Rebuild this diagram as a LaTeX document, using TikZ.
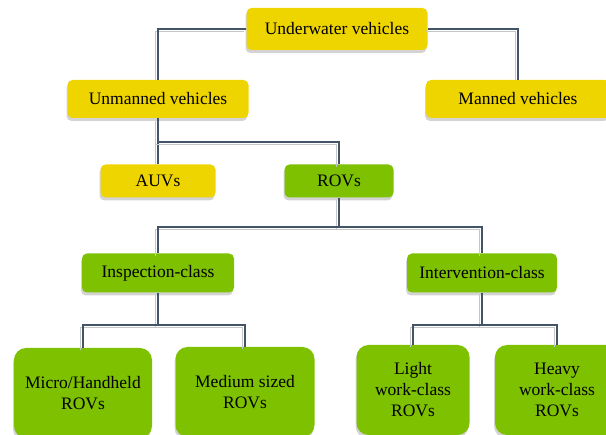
\documentclass[tikz,border=0pt]{standalone}
\usepackage{fontspec}
\setmainfont{Liberation Serif}
\usetikzlibrary{shadows}
\definecolor{vyellow}{RGB}{239,213,0}
\definecolor{vgreen}{RGB}{125,193,0}
\definecolor{linkcol}{RGB}{68,84,104}
\tikzset{
  box/.style={rounded corners=5pt, inner sep=2pt, align=center,
    font=\fontsize{17.5}{21}\selectfont,
    drop shadow={shadow xshift=-1pt, shadow yshift=-3pt, opacity=.35}},
  ybox/.style={box, fill=vyellow},
  gbox/.style={box, fill=vgreen},
  bigbox/.style={gbox, rounded corners=12pt, minimum height=90pt},
  link/.style={draw=linkcol, line width=1.5pt,
    preaction={draw=gray!45, line width=1.5pt,
      transform canvas={shift={(-2.5pt,-2.5pt)}}}},
}
\begin{document}
\begin{tikzpicture}[x=1pt,y=-1pt]
  \clip (0,0) rectangle (606,435);
  % top levels
  \node[ybox, minimum width=181pt, minimum height=42pt] (uw) at (337,29) {Underwater vehicles};
  \node[ybox, minimum width=181pt, minimum height=38pt] (unm) at (158,99) {Unmanned vehicles};
  \node[ybox, minimum width=184pt, minimum height=38pt] (man) at (518,99) {Manned vehicles};
  \node[ybox, minimum width=115pt, minimum height=33pt] (auv) at (158,181) {AUVs};
  \node[gbox, minimum width=109pt, minimum height=33pt] (rov) at (339,181) {ROVs};
  % ROV classes
  \node[gbox, minimum width=152pt, minimum height=39pt] (insp) at (158,273) {Inspection-class};
  \node[gbox, minimum width=150pt, minimum height=39pt] (interv) at (482,273) {Intervention-class};
  \node[bigbox, minimum width=138pt] (micro) at (83,393) {Micro/Handheld\\ROVs};
  \node[bigbox, minimum width=139pt] (med) at (245,392) {Medium sized\\ROVs};
  \node[bigbox, minimum width=113pt] (light) at (413,390) {Light\\work-class\\ROVs};
  \node[bigbox, minimum width=124pt] (heavy) at (557,390) {Heavy\\work-class\\ROVs};
  % junctions
  \coordinate (j1) at (158,142);
  \coordinate (j2) at (339,227);
  \coordinate (j3) at (158,325);
  \coordinate (j4) at (482,325);
  % connectors
  \draw[link] (uw.west) -| (unm.north);
  \draw[link] (uw.east) -| (man.north);
  \draw[link] (unm.south) -- (auv.north);
  \draw[link] (j1) -| (rov.north);
  \draw[link] (rov.south) -- (j2);
  \draw[link] (insp.north) |- (j2) -| (interv.north);
  \draw[link] (insp.south) -- (j3);
  \draw[link] (micro.north) |- (j3) -| (med.north);
  \draw[link] (interv.south) -- (j4);
  \draw[link] (light.north) |- (j4) -| (heavy.north);
\end{tikzpicture}
\end{document}
